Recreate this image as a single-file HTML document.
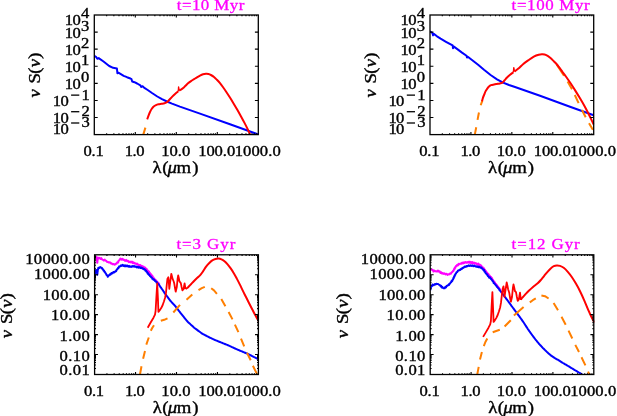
<!DOCTYPE html>
<html><head><meta charset="utf-8"><title>SED evolution</title>
<style>
html,body{margin:0;padding:0;background:#fff;}
body{width:617px;height:416px;overflow:hidden;font-family:"Liberation Serif",serif;}
svg{display:block;will-change:transform;opacity:0.999;}
</style></head><body>
<svg width="617" height="416" viewBox="0 0 617 416" font-family='"Liberation Serif", serif'>
<rect width="617" height="416" fill="#fff"/>
<defs>
<clipPath id="c1"><rect x="94.3" y="15" width="164.6" height="120"/></clipPath>
<clipPath id="c2"><rect x="430" y="15" width="164.3" height="120"/></clipPath>
<clipPath id="c3"><rect x="94.6" y="254.8" width="164.4" height="120.1"/></clipPath>
<clipPath id="c4"><rect x="430.2" y="254.8" width="164.2" height="120.1"/></clipPath>
</defs>
<path d="M94.3 55.8 L96 56.8 L97.3 58.8 L98.7 58.1 L103.5 61.5 L109.2 66 L113.1 67.8 L116.9 68.5 L117.4 73.2 L118.8 72.8 L123.7 75.8 L127 77.2 L130.4 78.5 L131.5 79.2 L132.2 81.5 L134.5 82.2 L137.1 83.5 L140.4 85.4 L141.3 87 L142.6 86.2 L144 87.6 L147.7 90 L152 93 L157.3 96.5 L162 99.2 L166.9 101.5 L172 103.6 L179.9 106.6 L200 113.6 L230 124.3 L258.3 134.4" fill="none" stroke="#0000ff" stroke-width="2" stroke-linejoin="round" stroke-linecap="butt" clip-path="url(#c1)"/>
<path d="M143.3 134.6 L145.4 127.6" fill="none" stroke="#ff7f00" stroke-width="2" stroke-linejoin="round" stroke-linecap="butt"/>
<path d="M147.2 119.3 C147.42 118.68 148.03 116.82 148.5 115.6 C148.97 114.38 149.45 113.13 150 112 C150.55 110.87 151.18 109.7 151.8 108.8 C152.42 107.9 153 107.22 153.7 106.6 C154.4 105.98 155.2 105.48 156 105.1 C156.8 104.72 157.58 104.52 158.5 104.3 C159.42 104.08 160.5 103.98 161.5 103.8 C162.5 103.62 163.67 103.45 164.5 103.2 C165.33 102.95 165.92 102.63 166.5 102.3 C167.08 101.97 167.42 101.75 168 101.2 C168.58 100.65 169.25 99.8 170 99 C170.75 98.2 171.7 97.2 172.5 96.4 C173.3 95.6 174.05 94.88 174.8 94.2 C175.55 93.52 176.42 92.78 177 92.3 C177.58 91.82 178.08 91.47 178.3 91.3" fill="none" stroke="#ff0000" stroke-width="2" stroke-linejoin="round" stroke-linecap="butt"/>
<path d="M178.3 91.3 L178.6 87 L179.2 90.6" fill="none" stroke="#ff0000" stroke-width="1.4" stroke-linejoin="round" stroke-linecap="butt"/>
<path d="M179.2 90.6 C179.5 90.43 180.33 90.02 181 89.6 C181.67 89.18 182.45 88.73 183.2 88.1 C183.95 87.47 184.7 86.6 185.5 85.8 C186.3 85 187.08 84.08 188 83.3 C188.92 82.52 190 81.78 191 81.1 C192 80.42 193 79.83 194 79.2 C195 78.57 196 77.9 197 77.3 C198 76.7 199 76.1 200 75.6 C201 75.1 202 74.6 203 74.3 C204 74 205.08 73.85 206 73.8 C206.92 73.75 207.68 73.8 208.5 74 C209.32 74.2 209.98 74.5 210.9 75 C211.82 75.5 213 76.2 214 77 C215 77.8 215.9 78.77 216.9 79.8 C217.9 80.83 219 82 220 83.2 C221 84.4 221.82 85.5 222.9 87 C223.98 88.5 225.3 90.4 226.5 92.2 C227.7 94 228.9 95.88 230.1 97.8 C231.3 99.72 232.5 101.7 233.7 103.7 C234.9 105.7 236.1 107.72 237.3 109.8 C238.5 111.88 239.7 114.02 240.9 116.2 C242.1 118.38 243.43 120.87 244.5 122.9 C245.57 124.93 246.35 126.45 247.3 128.4 C248.25 130.35 249.72 133.57 250.2 134.6" fill="none" stroke="#ff0000" stroke-width="2" stroke-linejoin="round" stroke-linecap="butt"/>
<path d="M430 31.2 L432.6 33.2 L433 35.4 L433.8 33.9 L437 36.3 L440.6 38.7 L446 41.8 L452.6 45.4 L453 48.2 L453.9 46.6 L458 49.6 L462 52.6 L466.5 55.8 L467 57.6 L467.8 56.8 L472 60 L478.1 64.8 L484 69.8 L490.6 75 L497 79.3 L503.1 82.6 L509 85 L515 87 L540 95.8 L570 106.7 L593.7 115.2" fill="none" stroke="#0000ff" stroke-width="2" stroke-linejoin="round" stroke-linecap="butt" clip-path="url(#c2)"/>
<path d="M474.8 134.6 C475.03 133.42 475.73 130 476.2 127.5 C476.67 125 477.12 122.22 477.6 119.6 C478.08 116.98 478.57 114.23 479.1 111.8 C479.63 109.37 480.25 106.87 480.8 105 C481.35 103.13 482.13 101.33 482.4 100.6" fill="none" stroke="#ff7f00" stroke-width="2" stroke-linejoin="round" stroke-linecap="butt" stroke-dasharray="7.5 7.5"/>
<path d="M556.8 64.6 L564 75.8 M567.6 81.6 L572 89.3 M574.8 95 L578.6 103.2 M582 110 L585.7 117.3 M589 123.3 L592.9 129.8" fill="none" stroke="#ff7f00" stroke-width="2" stroke-linecap="butt" stroke-linejoin="round" clip-path="url(#c2)"/>
<path d="M482 101.3 C482.17 100.68 482.63 98.72 483 97.6 C483.37 96.48 483.78 95.63 484.2 94.6 C484.62 93.57 485.02 92.37 485.5 91.4 C485.98 90.43 486.52 89.6 487.1 88.8 C487.68 88 488.35 87.2 489 86.6 C489.65 86 490.17 85.55 491 85.2 C491.83 84.85 493.05 84.7 494 84.5 C494.95 84.3 495.73 84.17 496.7 84 C497.67 83.83 498.83 83.73 499.8 83.5 C500.77 83.27 501.8 83.02 502.5 82.6 C503.2 82.18 503.52 81.55 504 81 C504.48 80.45 504.85 79.92 505.4 79.3 C505.95 78.68 506.67 77.93 507.3 77.3 C507.93 76.67 508.55 76.07 509.2 75.5 C509.85 74.93 510.5 74.43 511.2 73.9 C511.9 73.37 513.03 72.57 513.4 72.3" fill="none" stroke="#ff0000" stroke-width="2" stroke-linejoin="round" stroke-linecap="butt"/>
<path d="M513.4 72.3 L513.8 67.6 L514.5 71.5" fill="none" stroke="#ff0000" stroke-width="1.4" stroke-linejoin="round" stroke-linecap="butt"/>
<path d="M514.5 71.5 C514.68 71.37 514.78 71.33 515.6 70.7 C516.42 70.07 518.12 68.82 519.4 67.7 C520.68 66.58 521.85 65.22 523.3 64 C524.75 62.78 526.35 61.63 528.1 60.4 C529.85 59.17 532.03 57.55 533.8 56.6 C535.57 55.65 537.25 55.08 538.7 54.7 C540.15 54.32 541.23 54.23 542.5 54.3 C543.77 54.37 545.02 54.53 546.3 55.1 C547.58 55.67 548.95 56.68 550.2 57.7 C551.45 58.72 552.75 60.15 553.8 61.2 C554.85 62.25 555.63 63 556.5 64 C557.37 65 558.02 65.9 559 67.2 C559.98 68.5 561.25 70.25 562.4 71.8 C563.55 73.35 564.53 74.58 565.9 76.5 C567.27 78.42 569.03 80.95 570.6 83.3 C572.17 85.65 573.73 88.1 575.3 90.6 C576.87 93.1 578.45 95.7 580 98.3 C581.55 100.9 583.2 103.67 584.6 106.2 C586 108.73 587.13 110.97 588.4 113.5 C589.67 116.03 591.32 119.57 592.2 121.4 C593.08 123.23 593.45 123.98 593.7 124.5" fill="none" stroke="#ff0000" stroke-width="2" stroke-linejoin="round" stroke-linecap="butt" clip-path="url(#c2)"/>
<path d="M94.6 256.2 L95.8 256.38 L96.25 257.91 L96.7 257.43 L96.8 259.12 L96.9 259.25 L97 260.89 L97.1 260.83 L97.2 262.75 L97.3 262.81 L97.38 262.29 L97.47 260.66 L97.55 260.78 L97.63 258.97 L97.72 258.81 L97.8 257.41 L98.7 258.54 L99.6 257.83 L100.5 258.87 L101.33 258.16 L102.17 259.56 L103 259.85 L103.83 260.58 L104.67 259.6 L105.5 260.75 L106.27 260.71 L107.03 261.91 L107.8 261.94 L108.9 262.61 L110 262.21 L110.83 263.48 L111.67 263.26 L112.5 264.27 L113.6 263.94 L114.7 264.8 L115.6 263.7 L116.5 263.75 L117.3 262.24 L118.1 262.55 L118.65 260.65 L119.2 260.44 L120.4 258.5 L121.45 259.72 L122.5 258.79 L123.25 259.93 L124 259.66 L125.05 260.89 L126.1 259.84 L127.07 261.28 L128.03 260.7 L129 262.22 L130 261.56 L131 262.5 L132 261.57 L132.8 263.09 L133.6 262.33 L134.4 263.49 L135.2 263.14 L136.13 264.01 L137.07 263.58 L138 264.97 L138.75 264.66 L139.5 265.65 L140.25 264.97 L141 266.32 L141.85 265.85 L142.7 266.99 L143.55 266.58 L144.4 267.98 L145.1 267.57 L145.8 268.96 L146.5 268.79 L147.17 270.16 L147.83 270.64 L148.5 272.13 L149.04 271.53 L149.58 273.31 L150.12 273.1 L150.66 274.32 L151.2 274.28 L151.74 276.15 L152.28 275.67 L152.82 277.38 L153.36 277.22 L153.9 278.71 L154.52 278.83 L155.14 280.15 L155.76 280.11 L156.38 281.16 L157 281.49 L157.65 282.43 L158.3 282.86 L158.95 283.72 L159.6 284.37" fill="none" stroke="#ff00ff" stroke-width="2" stroke-linejoin="round" stroke-linecap="butt" clip-path="url(#c3)"/>
<path d="M94.6 276.5 L94.72 275.05 L94.85 275.32 L94.97 273.73 L95.1 273.16 L95.43 271.61 L95.77 271.74 L96.1 269.96 L96.9 271.67 L97 271.79 L97.1 273.41 L97.2 273.4 L97.3 274.8 L97.4 273.35 L97.5 273.07 L97.6 271.37 L97.7 271.52 L97.8 269.42 L98.05 269.48 L98.3 267.87 L99.25 267.95 L100.2 267.06 L101.5 267.93 L102.03 268.06 L102.57 269.27 L103.1 269.3 L103.57 270.8 L104.05 270.53 L104.53 271.94 L105 271.97 L105.5 273.2 L106 273.66 L106.5 274.99 L107.15 275.14 L107.8 276.8 L108.65 275.16 L109.5 275.21 L110.17 273.92 L110.83 274.44 L111.5 272.93 L112.5 273.46 L113.5 271.91 L114.5 272.4 L115.5 271.11 L116.17 271.19 L116.83 269.22 L117.5 269.2 L118.07 267.75 L118.63 267.93 L119.2 266.36 L120.1 266.52 L121 265.24 L121.85 265.91 L122.7 264.74 L123.47 265.85 L124.23 265.28 L125 266.34 L125.83 265.31 L126.67 266.27 L127.5 265.61 L128.3 266.74 L129.1 265.88 L129.9 266.88 L130.7 266.47 L131.52 266.9 L132.35 266.09 L133.18 266.67 L134 265.84 L135 266.92 L136 266.38 L137 267.47 L137.93 266.69 L138.87 267.79 L139.8 267.04 L140.7 268.07 L141.6 267.57 L142.5 268.7 L143.25 268.48 L144 269.42 L144.75 269.28 L145.5 270.67 L146.05 270.48 L146.6 271.86 L147.15 271.99 L147.7 273.77 L148.27 273.42 L148.85 274.86 L149.43 274.85 L150 276.15 L150.58 276.13 L151.17 277.38 L151.75 277.47 L152.33 278.81 L152.92 278.66 L153.5 279.77 L154.25 279.52 L155 280.94 L155.75 281.13 L156.5 282.54 L157.04 282.28 L157.58 283.63 L158.12 283.68 L158.66 284.63 L159.2 284.85 L159.67 285.96 L160.13 286.24 L160.6 287.32 L161.07 287.6 L161.53 288.54 L162 288.95 L162.5 289.84 L163 290.41 L163.5 291.34 L164 292.04 L164.5 292.86 L165 293.6 L165.5 294.27 L166 294.93 L166.5 295.6 L167 296.27 L167.5 296.93 L168 297.6 L168.56 298.34 L169.12 299.08 L169.68 299.82 L170.24 300.56 L170.8 301.3 L171.4 301.94 L172 302.59 L172.6 303.23 L173.2 303.87 L173.8 304.51 L174.4 305.16 L175 305.8 L175.53 306.48 L176.05 307.16 L176.58 307.85 L177.11 308.53 L177.64 309.21 L178.16 309.89 L178.69 310.57 L179.22 311.25 L179.75 311.94 L180.27 312.62 L180.8 313.3 L181.32 313.94 L181.83 314.58 L182.35 315.22 L182.86 315.85 L183.38 316.49 L183.89 317.13 L184.41 317.77 L184.92 318.41 L185.44 319.05 L185.95 319.68 L186.47 320.32 L186.98 320.96 L187.5 321.6 L188.11 322.15 L188.72 322.71 L189.33 323.26 L189.94 323.82 L190.55 324.37 L191.15 324.93 L191.76 325.48 L192.37 326.04 L192.98 326.59 L193.59 327.15 L194.2 327.7 L194.84 328.18 L195.48 328.67 L196.12 329.15 L196.77 329.63 L197.41 330.12 L198.05 330.6 L198.69 331.08 L199.33 331.57 L199.97 332.05 L200.62 332.53 L201.26 333.02 L201.9 333.5 L202.67 333.9 L203.44 334.3 L204.21 334.7 L204.98 335.1 L205.75 335.5 L206.52 335.9 L207.29 336.3 L208.06 336.7 L208.83 337.1 L209.6 337.5 L210.37 337.86 L211.14 338.21 L211.91 338.57 L212.69 338.93 L213.46 339.29 L214.23 339.64 L215 340 L215.84 340.34 L216.68 340.68 L217.52 341.02 L218.36 341.36 L219.2 341.7 L220 342.02 L220.8 342.35 L221.6 342.68 L222.4 343 L223.2 343.32 L224 343.65 L224.8 343.98 L225.6 344.3 L226.4 344.62 L227.2 344.95 L228 345.28 L228.8 345.6 L229.58 345.96 L230.36 346.32 L231.14 346.68 L231.92 347.04 L232.7 347.4 L233.48 347.76 L234.26 348.12 L235.04 348.48 L235.82 348.84 L236.6 349.2 L237.36 349.52 L238.12 349.84 L238.88 350.16 L239.64 350.48 L240.4 350.8 L241.16 351.12 L241.92 351.44 L242.68 351.76 L243.44 352.08 L244.2 352.4 L244.96 352.72 L245.72 353.04 L246.48 353.36 L247.24 353.68 L248 354 L248.76 354.38 L249.51 354.76 L250.27 355.14 L251.03 355.51 L251.79 355.89 L252.54 356.27 L253.3 356.65 L254.06 357.03 L254.81 357.41 L255.57 357.79 L256.33 358.16 L257.09 358.54 L257.84 358.92 L258.6 359.3" fill="none" stroke="#0000ff" stroke-width="2" stroke-linejoin="round" stroke-linecap="butt" clip-path="url(#c3)"/>
<path d="M140 374.3 L141.5 366.3 M143.1 358.7 L145 351 M146.3 344.6 L148.8 337.5 M150.8 330.8 L152.2 328 L154 325.2 M160.8 320.8 L164.2 319.8 L167.5 318.3 M173.3 312.5 L180 304.8 M186.5 299.8 L192.3 294.6 M198.5 290.2 L201.8 288.2 L204.8 286.9 M211.2 288.3 L214 290.4 L216.9 293.8 M221.3 299 L225.4 306.2 M228.6 312 L232.5 319.4 M234.9 324.6 L238.4 332.2 M241 338.7 L244.2 346.3 M247 352.8 L250.7 360.3 M252.9 365.8 L257.2 374.4" fill="none" stroke="#ff7f00" stroke-width="2" stroke-linecap="butt" stroke-linejoin="round" clip-path="url(#c3)"/>
<path d="M147.7 327.7 L150.5 322.8 L153.5 317.7 L155 314.6 L155.6 311 L156.3 298.5 L157.2 283.5 L157.9 298 L158.4 311.8 L159.6 310.4 L161.2 308.1 L162.7 305 L164 301.3 L165.2 297.2 L166 292.7 L166.8 284.5 L167.4 279 L168.3 277.3 L168.8 282 L169.3 288.8 L170.2 282 L171.3 273.8 L172 276.5 L172.7 279.2 L173.5 281 L174.2 283.1 L175 288 L175.7 291.7 L176.8 287 L177.6 279 L178.2 275.4 L178.8 278 L179.4 281.2 L180.8 283.1 L181.6 287 L182.4 290.4 L183.6 289 L184.2 285.5 L184.6 283.5 L185 286 L185.5 289" fill="none" stroke="#ff0000" stroke-width="1.8" stroke-linejoin="round" stroke-linecap="butt"/>
<path d="M185.5 289 C185.72 288.87 186.37 288.5 186.8 288.2 C187.23 287.9 187.4 287.87 188.1 287.2 C188.8 286.53 190.05 285.2 191 284.2 C191.95 283.2 192.83 282.2 193.8 281.2 C194.77 280.2 195.77 279.17 196.8 278.2 C197.83 277.23 198.97 276.53 200 275.4 C201.03 274.27 201.98 272.87 203 271.4 C204.02 269.93 205.05 268 206.1 266.6 C207.15 265.2 208.27 264.03 209.3 263 C210.33 261.97 211.27 261.07 212.3 260.4 C213.33 259.73 214.48 259.3 215.5 259 C216.52 258.7 217.4 258.55 218.4 258.6 C219.4 258.65 220.48 258.87 221.5 259.3 C222.52 259.73 223.48 260.35 224.5 261.2 C225.52 262.05 226.57 263.2 227.6 264.4 C228.63 265.6 229.67 266.93 230.7 268.4 C231.73 269.87 232.78 271.5 233.8 273.2 C234.82 274.9 235.78 276.7 236.8 278.6 C237.82 280.5 238.88 282.55 239.9 284.6 C240.92 286.65 241.88 288.83 242.9 290.9 C243.92 292.97 244.97 294.95 246 297 C247.03 299.05 248.07 301.17 249.1 303.2 C250.13 305.23 251.18 307.23 252.2 309.2 C253.22 311.17 254.12 313 255.2 315 C256.28 317 258.12 320.17 258.7 321.2" fill="none" stroke="#ff0000" stroke-width="2" stroke-linejoin="round" stroke-linecap="butt" clip-path="url(#c3)"/>
<path d="M430.2 270.1 L431.1 269.48 L432 269.84 L432.75 269.85 L433.5 271.48 L434.33 270.61 L435.17 271.38 L436 271.15 L437 271.66 L438 270.51 L438.83 271.67 L439.67 271.3 L440.5 273 L441.27 272.29 L442.03 273.61 L442.8 273 L443.7 273.86 L444.6 273.27 L445.5 274.53 L446.5 273.73 L447.5 274.99 L448.5 274.18 L449.33 274.41 L450.17 273.2 L451 273.77 L451.7 272.32 L452.4 272.12 L453.1 270.68 L453.53 270.88 L453.95 269.11 L454.38 269.46 L454.8 267.46 L455.37 267.82 L455.93 265.97 L456.5 266.09 L457.25 264.74 L458 265.41 L458.75 263.74 L459.5 264.19 L460.4 263.55 L461.3 263.79 L462.2 262.62 L463.02 263.46 L463.85 262.36 L464.68 262.93 L465.5 261.98 L466.4 262.68 L467.3 261.91 L468.2 262.64 L469.1 261.63 L469.95 262.87 L470.8 261.83 L471.65 263.14 L472.5 261.98 L473.35 263.57 L474.2 262.63 L475.05 263.66 L475.9 263.08 L477.05 264.63 L478.2 263.55 L478.97 265.09 L479.73 264.53 L480.5 265.76 L481.27 265.59 L482.03 267.36 L482.8 267.3 L483.35 268.38 L483.9 268.18 L484.45 270.09 L485 269.81 L485.6 271.46 L486.2 271.36 L486.8 272.82 L487.37 273 L487.93 274.57 L488.5 274.07 L489.06 275.48 L489.62 275.46 L490.18 276.73 L490.74 276.64 L491.3 278.13 L491.79 277.85 L492.27 279.84 L492.76 279.47 L493.24 281.13 L493.73 280.98 L494.21 282.05 L494.7 282.28 L495.27 283.39 L495.83 283.87 L496.4 284.87 L496.97 285.22 L497.53 286.17 L498.1 286.76 L498.7 287.7 L499.3 288.37 L499.9 289.21 L500.5 290" fill="none" stroke="#ff00ff" stroke-width="2" stroke-linejoin="round" stroke-linecap="butt" clip-path="url(#c4)"/>
<path d="M430.2 290.4 L430.4 289.32 L430.6 288.87 L430.8 287.54 L431 287.19 L431.53 286.18 L432.07 285.98 L432.6 284.44 L433.7 285.3 L434.8 284.11 L435.57 284.56 L436.33 283.69 L437.1 284.05 L438.05 284 L439 284.77 L439.8 284.98 L440.6 286.37 L441.23 285.88 L441.87 287.51 L442.5 287.1 L443.25 288.21 L444 288.13 L444.67 288.29 L445.33 286.86 L446 287.33 L446.83 285.66 L447.67 285.76 L448.5 284.59 L449.07 284.84 L449.65 283.44 L450.23 283.41 L450.8 282.25 L451.26 282.08 L451.72 280.67 L452.18 281.1 L452.64 279.5 L453.1 279.46 L453.44 277.88 L453.78 278.07 L454.12 276.38 L454.46 276.69 L454.8 275.04 L455.23 274.97 L455.65 273.49 L456.07 273.48 L456.5 272.2 L457.27 272 L458.03 270.56 L458.8 270.54 L459.57 269.79 L460.33 269.89 L461.1 268.75 L461.9 268.91 L462.7 267.72 L463.5 267.88 L464.6 266.55 L465.7 266.91 L466.63 266.08 L467.57 266.32 L468.5 265.38 L469.47 265.95 L470.43 265.31 L471.4 265.98 L472.37 265.39 L473.33 266.22 L474.3 265.45 L475.23 266.4 L476.17 266.32 L477.1 266.93 L477.9 266.31 L478.7 267.32 L479.5 266.77 L480.55 267.68 L481.6 267.59 L482.2 268.77 L482.8 268.91 L483.4 270.13 L484 269.75 L484.55 271.68 L485.1 271.43 L485.65 273.28 L486.2 273.37 L486.77 274.53 L487.35 274.47 L487.93 276.32 L488.5 276.28 L489.27 277.77 L490.03 277.38 L490.8 278.91 L491.29 278.82 L491.77 279.98 L492.26 280.12 L492.74 281.33 L493.23 281.53 L493.71 283.1 L494.2 282.92 L494.77 284.02 L495.33 284.46 L495.9 285.5 L496.47 285.5 L497.03 286.99 L497.6 287.16 L498.17 288.28 L498.73 288.4 L499.3 289.83 L499.87 290.19 L500.43 291.15 L501 291.73 L501.5 292.55 L502 292.95 L502.5 293.83 L503 294.39 L503.5 295.15 L504 295.71 L504.5 296.44 L505 297.06 L505.5 297.71 L506 298.37 L506.5 299.03 L507 299.69 L507.5 300.34 L508 301 L508.47 301.66 L508.94 302.31 L509.41 302.97 L509.89 303.63 L510.36 304.29 L510.83 304.94 L511.3 305.6 L511.83 306.31 L512.36 307.03 L512.89 307.74 L513.41 308.46 L513.94 309.17 L514.47 309.89 L515 310.6 L515.5 311.27 L516 311.94 L516.5 312.61 L517 313.28 L517.5 313.95 L518 314.62 L518.5 315.29 L519 315.96 L519.5 316.63 L520 317.3 L520.5 318.01 L521 318.73 L521.5 319.44 L522 320.15 L522.5 320.86 L523 321.57 L523.5 322.29 L524 323 L524.46 323.73 L524.92 324.45 L525.39 325.18 L525.85 325.9 L526.31 326.62 L526.78 327.35 L527.24 328.07 L527.7 328.8 L528.18 329.48 L528.65 330.15 L529.12 330.82 L529.6 331.5 L530.08 332.18 L530.55 332.85 L531.02 333.52 L531.5 334.2 L531.99 334.85 L532.48 335.5 L532.96 336.15 L533.45 336.8 L533.94 337.45 L534.42 338.1 L534.91 338.75 L535.4 339.4 L535.94 340.06 L536.49 340.71 L537.03 341.37 L537.57 342.03 L538.11 342.69 L538.66 343.34 L539.2 344 L539.76 344.6 L540.31 345.2 L540.87 345.8 L541.43 346.4 L541.99 347 L542.54 347.6 L543.1 348.2 L543.75 348.83 L544.4 349.47 L545.05 350.1 L545.7 350.73 L546.35 351.37 L547 352 L547.63 352.57 L548.27 353.13 L548.9 353.7 L549.53 354.27 L550.17 354.83 L550.8 355.4 L551.54 355.9 L552.28 356.4 L553.02 356.9 L553.76 357.4 L554.5 357.9 L555.3 358.36 L556.1 358.82 L556.9 359.28 L557.7 359.74 L558.5 360.2 L559.25 360.67 L560 361.13 L560.75 361.6 L561.5 362.07 L562.25 362.53 L563 363 L563.73 363.43 L564.46 363.86 L565.19 364.29 L565.91 364.71 L566.64 365.14 L567.37 365.57 L568.1 366 L568.84 366.45 L569.58 366.9 L570.31 367.35 L571.05 367.8 L571.79 368.25 L572.52 368.7 L573.26 369.15 L574 369.6 L574.75 370.05 L575.5 370.5 L576.25 370.95 L577 371.4 L577.75 371.85 L578.5 372.3 L579.25 372.75 L580 373.2 L580.75 373.7 L581.5 374.2 L582.25 374.7 L583 375.2" fill="none" stroke="#0000ff" stroke-width="2" stroke-linejoin="round" stroke-linecap="butt" clip-path="url(#c4)"/>
<path d="M477.3 374.3 L478.7 366.9 M480 359.6 L481.9 351.9 M483.8 346.2 L485.4 342 L487.3 338.5 M492.7 332.3 L496.2 331 L499.8 329.8 M504.6 326.5 L510.8 320.2 M513.9 315.4 L523.6 307 M529.8 302.4 L532.8 300.2 L535.8 298.4 M541.4 295.5 L545 296.2 L548.6 298.5 M553.6 302.9 L558 310.2 M561.5 316.8 L565.7 324.8 M568.5 330.6 L572.3 338.5 M575.3 344.9 L579 352 M581.5 357.3 L585.4 365.4 M588 371.6 L589.7 375" fill="none" stroke="#ff7f00" stroke-width="2" stroke-linecap="butt" stroke-linejoin="round" clip-path="url(#c4)"/>
<path d="M483.1 336.9 L485.8 332.4 L488.5 327.7 L490.2 324.4 L490.9 321 L491.6 307 L492.4 292.1 L493 307 L493.6 321.9 L494.8 320.4 L496.2 318.1 L497.7 315 L499 311.3 L500.2 307.2 L501 302.7 L501.9 294.5 L502.6 289 L503.5 286.3 L504 291 L504.5 296.9 L505.5 290 L506.7 282.5 L507.4 285.5 L508.1 289.2 L508.7 291 L509.3 293.1 L510.1 298 L510.9 301.7 L512 297 L512.9 288 L513.5 284.4 L514.2 287.5 L514.9 291 L516 292.1 L516.9 297 L517.7 300.8 L518.9 299.4 L519.5 295.5 L520 292.7 L520.4 296 L520.9 299.8" fill="none" stroke="#ff0000" stroke-width="1.8" stroke-linejoin="round" stroke-linecap="butt"/>
<path d="M520.9 299.8 C521.08 299.5 521.63 298.48 522 298 C522.37 297.52 522.43 297.63 523.1 296.9 C523.77 296.17 525.05 294.62 526 293.6 C526.95 292.58 527.63 291.9 528.8 290.8 C529.97 289.7 531.52 288.25 533 287 C534.48 285.75 536.37 284.5 537.7 283.3 C539.03 282.1 539.92 281.05 541 279.8 C542.08 278.55 543.12 277.13 544.2 275.8 C545.28 274.47 546.42 273.03 547.5 271.8 C548.58 270.57 549.65 269.33 550.7 268.4 C551.75 267.47 552.78 266.68 553.8 266.2 C554.82 265.72 555.77 265.55 556.8 265.5 C557.83 265.45 558.85 265.52 560 265.9 C561.15 266.28 562.4 266.82 563.7 267.8 C565 268.78 566.45 270.27 567.8 271.8 C569.15 273.33 570.45 275.03 571.8 277 C573.15 278.97 574.55 281.27 575.9 283.6 C577.25 285.93 578.55 288.3 579.9 291 C581.25 293.7 582.65 296.75 584 299.8 C585.35 302.85 586.83 306.6 588 309.3 C589.17 312 589.92 313.78 591 316 C592.08 318.22 593.92 321.5 594.5 322.6" fill="none" stroke="#ff0000" stroke-width="2" stroke-linejoin="round" stroke-linecap="butt" clip-path="url(#c4)"/>
<rect x="94.3" y="15" width="164" height="119.6" fill="none" stroke="#000" stroke-width="1.3"/>
<path d="M135.3 134.6 v-2.6 M135.3 15 v2.6 M176.3 134.6 v-2.6 M176.3 15 v2.6 M217.3 134.6 v-2.6 M217.3 15 v2.6 M106.64 134.6 v-1.3 M106.64 15 v1.3 M113.86 134.6 v-1.3 M113.86 15 v1.3 M118.98 134.6 v-1.3 M118.98 15 v1.3 M122.96 134.6 v-1.3 M122.96 15 v1.3 M126.2 134.6 v-1.3 M126.2 15 v1.3 M128.95 134.6 v-1.3 M128.95 15 v1.3 M131.33 134.6 v-1.3 M131.33 15 v1.3 M133.42 134.6 v-1.3 M133.42 15 v1.3 M147.64 134.6 v-1.3 M147.64 15 v1.3 M154.86 134.6 v-1.3 M154.86 15 v1.3 M159.98 134.6 v-1.3 M159.98 15 v1.3 M163.96 134.6 v-1.3 M163.96 15 v1.3 M167.2 134.6 v-1.3 M167.2 15 v1.3 M169.95 134.6 v-1.3 M169.95 15 v1.3 M172.33 134.6 v-1.3 M172.33 15 v1.3 M174.42 134.6 v-1.3 M174.42 15 v1.3 M188.64 134.6 v-1.3 M188.64 15 v1.3 M195.86 134.6 v-1.3 M195.86 15 v1.3 M200.98 134.6 v-1.3 M200.98 15 v1.3 M204.96 134.6 v-1.3 M204.96 15 v1.3 M208.2 134.6 v-1.3 M208.2 15 v1.3 M210.95 134.6 v-1.3 M210.95 15 v1.3 M213.33 134.6 v-1.3 M213.33 15 v1.3 M215.42 134.6 v-1.3 M215.42 15 v1.3 M229.64 134.6 v-1.3 M229.64 15 v1.3 M236.86 134.6 v-1.3 M236.86 15 v1.3 M241.98 134.6 v-1.3 M241.98 15 v1.3 M245.96 134.6 v-1.3 M245.96 15 v1.3 M249.2 134.6 v-1.3 M249.2 15 v1.3 M251.95 134.6 v-1.3 M251.95 15 v1.3 M254.33 134.6 v-1.3 M254.33 15 v1.3 M256.42 134.6 v-1.3 M256.42 15 v1.3 M94.3 32.09 h3.4 M258.3 32.09 h-3.4 M94.3 49.17 h3.4 M258.3 49.17 h-3.4 M94.3 66.26 h3.4 M258.3 66.26 h-3.4 M94.3 83.34 h3.4 M258.3 83.34 h-3.4 M94.3 100.43 h3.4 M258.3 100.43 h-3.4 M94.3 117.51 h3.4 M258.3 117.51 h-3.4" fill="none" stroke="#000" stroke-width="1.1"/>
<rect x="430" y="15" width="163.7" height="119.6" fill="none" stroke="#000" stroke-width="1.3"/>
<path d="M470.93 134.6 v-2.6 M470.93 15 v2.6 M511.85 134.6 v-2.6 M511.85 15 v2.6 M552.78 134.6 v-2.6 M552.78 15 v2.6 M442.32 134.6 v-1.3 M442.32 15 v1.3 M449.53 134.6 v-1.3 M449.53 15 v1.3 M454.64 134.6 v-1.3 M454.64 15 v1.3 M458.61 134.6 v-1.3 M458.61 15 v1.3 M461.85 134.6 v-1.3 M461.85 15 v1.3 M464.59 134.6 v-1.3 M464.59 15 v1.3 M466.96 134.6 v-1.3 M466.96 15 v1.3 M469.05 134.6 v-1.3 M469.05 15 v1.3 M483.24 134.6 v-1.3 M483.24 15 v1.3 M490.45 134.6 v-1.3 M490.45 15 v1.3 M495.56 134.6 v-1.3 M495.56 15 v1.3 M499.53 134.6 v-1.3 M499.53 15 v1.3 M502.77 134.6 v-1.3 M502.77 15 v1.3 M505.51 134.6 v-1.3 M505.51 15 v1.3 M507.88 134.6 v-1.3 M507.88 15 v1.3 M509.98 134.6 v-1.3 M509.98 15 v1.3 M524.17 134.6 v-1.3 M524.17 15 v1.3 M531.38 134.6 v-1.3 M531.38 15 v1.3 M536.49 134.6 v-1.3 M536.49 15 v1.3 M540.46 134.6 v-1.3 M540.46 15 v1.3 M543.7 134.6 v-1.3 M543.7 15 v1.3 M546.44 134.6 v-1.3 M546.44 15 v1.3 M548.81 134.6 v-1.3 M548.81 15 v1.3 M550.9 134.6 v-1.3 M550.9 15 v1.3 M565.09 134.6 v-1.3 M565.09 15 v1.3 M572.3 134.6 v-1.3 M572.3 15 v1.3 M577.41 134.6 v-1.3 M577.41 15 v1.3 M581.38 134.6 v-1.3 M581.38 15 v1.3 M584.62 134.6 v-1.3 M584.62 15 v1.3 M587.36 134.6 v-1.3 M587.36 15 v1.3 M589.73 134.6 v-1.3 M589.73 15 v1.3 M591.83 134.6 v-1.3 M591.83 15 v1.3 M430 32.09 h3.4 M593.7 32.09 h-3.4 M430 49.17 h3.4 M593.7 49.17 h-3.4 M430 66.26 h3.4 M593.7 66.26 h-3.4 M430 83.34 h3.4 M593.7 83.34 h-3.4 M430 100.43 h3.4 M593.7 100.43 h-3.4 M430 117.51 h3.4 M593.7 117.51 h-3.4" fill="none" stroke="#000" stroke-width="1.1"/>
<rect x="94.6" y="254.8" width="163.8" height="119.7" fill="none" stroke="#000" stroke-width="1.3"/>
<path d="M135.55 374.5 v-2.6 M135.55 254.8 v2.6 M176.5 374.5 v-2.6 M176.5 254.8 v2.6 M217.45 374.5 v-2.6 M217.45 254.8 v2.6 M106.93 374.5 v-1.3 M106.93 254.8 v1.3 M114.14 374.5 v-1.3 M114.14 254.8 v1.3 M119.25 374.5 v-1.3 M119.25 254.8 v1.3 M123.22 374.5 v-1.3 M123.22 254.8 v1.3 M126.47 374.5 v-1.3 M126.47 254.8 v1.3 M129.21 374.5 v-1.3 M129.21 254.8 v1.3 M131.58 374.5 v-1.3 M131.58 254.8 v1.3 M133.68 374.5 v-1.3 M133.68 254.8 v1.3 M147.88 374.5 v-1.3 M147.88 254.8 v1.3 M155.09 374.5 v-1.3 M155.09 254.8 v1.3 M160.2 374.5 v-1.3 M160.2 254.8 v1.3 M164.17 374.5 v-1.3 M164.17 254.8 v1.3 M167.42 374.5 v-1.3 M167.42 254.8 v1.3 M170.16 374.5 v-1.3 M170.16 254.8 v1.3 M172.53 374.5 v-1.3 M172.53 254.8 v1.3 M174.63 374.5 v-1.3 M174.63 254.8 v1.3 M188.83 374.5 v-1.3 M188.83 254.8 v1.3 M196.04 374.5 v-1.3 M196.04 254.8 v1.3 M201.15 374.5 v-1.3 M201.15 254.8 v1.3 M205.12 374.5 v-1.3 M205.12 254.8 v1.3 M208.37 374.5 v-1.3 M208.37 254.8 v1.3 M211.11 374.5 v-1.3 M211.11 254.8 v1.3 M213.48 374.5 v-1.3 M213.48 254.8 v1.3 M215.58 374.5 v-1.3 M215.58 254.8 v1.3 M229.78 374.5 v-1.3 M229.78 254.8 v1.3 M236.99 374.5 v-1.3 M236.99 254.8 v1.3 M242.1 374.5 v-1.3 M242.1 254.8 v1.3 M246.07 374.5 v-1.3 M246.07 254.8 v1.3 M249.32 374.5 v-1.3 M249.32 254.8 v1.3 M252.06 374.5 v-1.3 M252.06 254.8 v1.3 M254.43 374.5 v-1.3 M254.43 254.8 v1.3 M256.53 374.5 v-1.3 M256.53 254.8 v1.3 M94.6 274.75 h3.4 M258.4 274.75 h-3.4 M94.6 294.7 h3.4 M258.4 294.7 h-3.4 M94.6 314.65 h3.4 M258.4 314.65 h-3.4 M94.6 334.6 h3.4 M258.4 334.6 h-3.4 M94.6 354.55 h3.4 M258.4 354.55 h-3.4 M94.6 368.49 h1.4 M258.4 368.49 h-1.4 M94.6 364.98 h1.4 M258.4 364.98 h-1.4 M94.6 362.49 h1.4 M258.4 362.49 h-1.4 M94.6 360.56 h1.4 M258.4 360.56 h-1.4 M94.6 358.98 h1.4 M258.4 358.98 h-1.4 M94.6 357.64 h1.4 M258.4 357.64 h-1.4 M94.6 356.48 h1.4 M258.4 356.48 h-1.4 M94.6 355.46 h1.4 M258.4 355.46 h-1.4 M94.6 348.54 h1.4 M258.4 348.54 h-1.4 M94.6 345.03 h1.4 M258.4 345.03 h-1.4 M94.6 342.54 h1.4 M258.4 342.54 h-1.4 M94.6 340.61 h1.4 M258.4 340.61 h-1.4 M94.6 339.03 h1.4 M258.4 339.03 h-1.4 M94.6 337.69 h1.4 M258.4 337.69 h-1.4 M94.6 336.53 h1.4 M258.4 336.53 h-1.4 M94.6 335.51 h1.4 M258.4 335.51 h-1.4 M94.6 328.59 h1.4 M258.4 328.59 h-1.4 M94.6 325.08 h1.4 M258.4 325.08 h-1.4 M94.6 322.59 h1.4 M258.4 322.59 h-1.4 M94.6 320.66 h1.4 M258.4 320.66 h-1.4 M94.6 319.08 h1.4 M258.4 319.08 h-1.4 M94.6 317.74 h1.4 M258.4 317.74 h-1.4 M94.6 316.58 h1.4 M258.4 316.58 h-1.4 M94.6 315.56 h1.4 M258.4 315.56 h-1.4 M94.6 308.64 h1.4 M258.4 308.64 h-1.4 M94.6 305.13 h1.4 M258.4 305.13 h-1.4 M94.6 302.64 h1.4 M258.4 302.64 h-1.4 M94.6 300.71 h1.4 M258.4 300.71 h-1.4 M94.6 299.13 h1.4 M258.4 299.13 h-1.4 M94.6 297.79 h1.4 M258.4 297.79 h-1.4 M94.6 296.63 h1.4 M258.4 296.63 h-1.4 M94.6 295.61 h1.4 M258.4 295.61 h-1.4 M94.6 288.69 h1.4 M258.4 288.69 h-1.4 M94.6 285.18 h1.4 M258.4 285.18 h-1.4 M94.6 282.69 h1.4 M258.4 282.69 h-1.4 M94.6 280.76 h1.4 M258.4 280.76 h-1.4 M94.6 279.18 h1.4 M258.4 279.18 h-1.4 M94.6 277.84 h1.4 M258.4 277.84 h-1.4 M94.6 276.68 h1.4 M258.4 276.68 h-1.4 M94.6 275.66 h1.4 M258.4 275.66 h-1.4 M94.6 268.74 h1.4 M258.4 268.74 h-1.4 M94.6 265.23 h1.4 M258.4 265.23 h-1.4 M94.6 262.74 h1.4 M258.4 262.74 h-1.4 M94.6 260.81 h1.4 M258.4 260.81 h-1.4 M94.6 259.23 h1.4 M258.4 259.23 h-1.4 M94.6 257.89 h1.4 M258.4 257.89 h-1.4 M94.6 256.73 h1.4 M258.4 256.73 h-1.4 M94.6 255.71 h1.4 M258.4 255.71 h-1.4" fill="none" stroke="#000" stroke-width="1.1"/>
<rect x="430.2" y="254.8" width="163.6" height="119.7" fill="none" stroke="#000" stroke-width="1.3"/>
<path d="M471.1 374.5 v-2.6 M471.1 254.8 v2.6 M512 374.5 v-2.6 M512 254.8 v2.6 M552.9 374.5 v-2.6 M552.9 254.8 v2.6 M442.51 374.5 v-1.3 M442.51 254.8 v1.3 M449.71 374.5 v-1.3 M449.71 254.8 v1.3 M454.82 374.5 v-1.3 M454.82 254.8 v1.3 M458.79 374.5 v-1.3 M458.79 254.8 v1.3 M462.03 374.5 v-1.3 M462.03 254.8 v1.3 M464.76 374.5 v-1.3 M464.76 254.8 v1.3 M467.14 374.5 v-1.3 M467.14 254.8 v1.3 M469.23 374.5 v-1.3 M469.23 254.8 v1.3 M483.41 374.5 v-1.3 M483.41 254.8 v1.3 M490.61 374.5 v-1.3 M490.61 254.8 v1.3 M495.72 374.5 v-1.3 M495.72 254.8 v1.3 M499.69 374.5 v-1.3 M499.69 254.8 v1.3 M502.93 374.5 v-1.3 M502.93 254.8 v1.3 M505.66 374.5 v-1.3 M505.66 254.8 v1.3 M508.04 374.5 v-1.3 M508.04 254.8 v1.3 M510.13 374.5 v-1.3 M510.13 254.8 v1.3 M524.31 374.5 v-1.3 M524.31 254.8 v1.3 M531.51 374.5 v-1.3 M531.51 254.8 v1.3 M536.62 374.5 v-1.3 M536.62 254.8 v1.3 M540.59 374.5 v-1.3 M540.59 254.8 v1.3 M543.83 374.5 v-1.3 M543.83 254.8 v1.3 M546.56 374.5 v-1.3 M546.56 254.8 v1.3 M548.94 374.5 v-1.3 M548.94 254.8 v1.3 M551.03 374.5 v-1.3 M551.03 254.8 v1.3 M565.21 374.5 v-1.3 M565.21 254.8 v1.3 M572.41 374.5 v-1.3 M572.41 254.8 v1.3 M577.52 374.5 v-1.3 M577.52 254.8 v1.3 M581.49 374.5 v-1.3 M581.49 254.8 v1.3 M584.73 374.5 v-1.3 M584.73 254.8 v1.3 M587.46 374.5 v-1.3 M587.46 254.8 v1.3 M589.84 374.5 v-1.3 M589.84 254.8 v1.3 M591.93 374.5 v-1.3 M591.93 254.8 v1.3 M430.2 274.75 h3.4 M593.8 274.75 h-3.4 M430.2 294.7 h3.4 M593.8 294.7 h-3.4 M430.2 314.65 h3.4 M593.8 314.65 h-3.4 M430.2 334.6 h3.4 M593.8 334.6 h-3.4 M430.2 354.55 h3.4 M593.8 354.55 h-3.4 M430.2 368.49 h1.4 M593.8 368.49 h-1.4 M430.2 364.98 h1.4 M593.8 364.98 h-1.4 M430.2 362.49 h1.4 M593.8 362.49 h-1.4 M430.2 360.56 h1.4 M593.8 360.56 h-1.4 M430.2 358.98 h1.4 M593.8 358.98 h-1.4 M430.2 357.64 h1.4 M593.8 357.64 h-1.4 M430.2 356.48 h1.4 M593.8 356.48 h-1.4 M430.2 355.46 h1.4 M593.8 355.46 h-1.4 M430.2 348.54 h1.4 M593.8 348.54 h-1.4 M430.2 345.03 h1.4 M593.8 345.03 h-1.4 M430.2 342.54 h1.4 M593.8 342.54 h-1.4 M430.2 340.61 h1.4 M593.8 340.61 h-1.4 M430.2 339.03 h1.4 M593.8 339.03 h-1.4 M430.2 337.69 h1.4 M593.8 337.69 h-1.4 M430.2 336.53 h1.4 M593.8 336.53 h-1.4 M430.2 335.51 h1.4 M593.8 335.51 h-1.4 M430.2 328.59 h1.4 M593.8 328.59 h-1.4 M430.2 325.08 h1.4 M593.8 325.08 h-1.4 M430.2 322.59 h1.4 M593.8 322.59 h-1.4 M430.2 320.66 h1.4 M593.8 320.66 h-1.4 M430.2 319.08 h1.4 M593.8 319.08 h-1.4 M430.2 317.74 h1.4 M593.8 317.74 h-1.4 M430.2 316.58 h1.4 M593.8 316.58 h-1.4 M430.2 315.56 h1.4 M593.8 315.56 h-1.4 M430.2 308.64 h1.4 M593.8 308.64 h-1.4 M430.2 305.13 h1.4 M593.8 305.13 h-1.4 M430.2 302.64 h1.4 M593.8 302.64 h-1.4 M430.2 300.71 h1.4 M593.8 300.71 h-1.4 M430.2 299.13 h1.4 M593.8 299.13 h-1.4 M430.2 297.79 h1.4 M593.8 297.79 h-1.4 M430.2 296.63 h1.4 M593.8 296.63 h-1.4 M430.2 295.61 h1.4 M593.8 295.61 h-1.4 M430.2 288.69 h1.4 M593.8 288.69 h-1.4 M430.2 285.18 h1.4 M593.8 285.18 h-1.4 M430.2 282.69 h1.4 M593.8 282.69 h-1.4 M430.2 280.76 h1.4 M593.8 280.76 h-1.4 M430.2 279.18 h1.4 M593.8 279.18 h-1.4 M430.2 277.84 h1.4 M593.8 277.84 h-1.4 M430.2 276.68 h1.4 M593.8 276.68 h-1.4 M430.2 275.66 h1.4 M593.8 275.66 h-1.4 M430.2 268.74 h1.4 M593.8 268.74 h-1.4 M430.2 265.23 h1.4 M593.8 265.23 h-1.4 M430.2 262.74 h1.4 M593.8 262.74 h-1.4 M430.2 260.81 h1.4 M593.8 260.81 h-1.4 M430.2 259.23 h1.4 M593.8 259.23 h-1.4 M430.2 257.89 h1.4 M593.8 257.89 h-1.4 M430.2 256.73 h1.4 M593.8 256.73 h-1.4 M430.2 255.71 h1.4 M593.8 255.71 h-1.4" fill="none" stroke="#000" stroke-width="1.1"/>
<text font-size="14.3" text-anchor="start" fill="#000" textLength="17.41" lengthAdjust="spacing" transform="translate(83.6 155.8) scale(1.16 1)" stroke="#000" stroke-width="0.36" stroke-linejoin="round">0.1</text>
<text font-size="14.3" text-anchor="start" fill="#000" textLength="17.16" lengthAdjust="spacing" transform="translate(124.75 155.8) scale(1.16 1)" stroke="#000" stroke-width="0.36" stroke-linejoin="round">1.0</text>
<text font-size="14.3" text-anchor="start" fill="#000" textLength="25.09" lengthAdjust="spacing" transform="translate(161.15 155.8) scale(1.16 1)" stroke="#000" stroke-width="0.36" stroke-linejoin="round">10.0</text>
<text font-size="14.3" text-anchor="start" fill="#000" textLength="31.9" lengthAdjust="spacing" transform="translate(198.2 155.8) scale(1.16 1)" stroke="#000" stroke-width="0.36" stroke-linejoin="round">100.0</text>
<text font-size="14.3" text-anchor="start" fill="#000" textLength="39.74" lengthAdjust="spacing" transform="translate(234.65 155.8) scale(1.16 1)" stroke="#000" stroke-width="0.36" stroke-linejoin="round">1000.0</text>
<text font-size="14.3" text-anchor="start" fill="#000" transform="translate(81 18.1) scale(1.16 1)" stroke="#000" stroke-width="0.36" stroke-linejoin="round">4</text>
<text font-size="14.3" text-anchor="start" fill="#000" textLength="13.79" lengthAdjust="spacing" transform="translate(64.8 25) scale(1.16 1)" stroke="#000" stroke-width="0.36" stroke-linejoin="round">10</text>
<text font-size="14.3" text-anchor="start" fill="#000" transform="translate(81 31.19) scale(1.16 1)" stroke="#000" stroke-width="0.36" stroke-linejoin="round">3</text>
<text font-size="14.3" text-anchor="start" fill="#000" textLength="13.79" lengthAdjust="spacing" transform="translate(64.8 38.09) scale(1.16 1)" stroke="#000" stroke-width="0.36" stroke-linejoin="round">10</text>
<text font-size="14.3" text-anchor="start" fill="#000" transform="translate(81 48.27) scale(1.16 1)" stroke="#000" stroke-width="0.36" stroke-linejoin="round">2</text>
<text font-size="14.3" text-anchor="start" fill="#000" textLength="13.79" lengthAdjust="spacing" transform="translate(64.8 55.17) scale(1.16 1)" stroke="#000" stroke-width="0.36" stroke-linejoin="round">10</text>
<text font-size="14.3" text-anchor="start" fill="#000" transform="translate(81 65.36) scale(1.16 1)" stroke="#000" stroke-width="0.36" stroke-linejoin="round">1</text>
<text font-size="14.3" text-anchor="start" fill="#000" textLength="13.79" lengthAdjust="spacing" transform="translate(64.8 72.26) scale(1.16 1)" stroke="#000" stroke-width="0.36" stroke-linejoin="round">10</text>
<text font-size="14.3" text-anchor="start" fill="#000" transform="translate(81 82.44) scale(1.16 1)" stroke="#000" stroke-width="0.36" stroke-linejoin="round">0</text>
<text font-size="14.3" text-anchor="start" fill="#000" textLength="13.79" lengthAdjust="spacing" transform="translate(64.8 89.34) scale(1.16 1)" stroke="#000" stroke-width="0.36" stroke-linejoin="round">10</text>
<text font-size="14.3" text-anchor="start" fill="#000" transform="translate(81.6 99.53) scale(1.16 1)" stroke="#000" stroke-width="0.36" stroke-linejoin="round">1</text>
<path d="M71.1 95.13 h8.2" stroke="#000" stroke-width="1.3" fill="none"/>
<text font-size="14.3" text-anchor="start" fill="#000" textLength="13.79" lengthAdjust="spacing" transform="translate(52.7 106.43) scale(1.16 1)" stroke="#000" stroke-width="0.36" stroke-linejoin="round">10</text>
<text font-size="14.3" text-anchor="start" fill="#000" transform="translate(81.6 116.11) scale(1.16 1)" stroke="#000" stroke-width="0.36" stroke-linejoin="round">2</text>
<path d="M71.1 111.71 h8.2" stroke="#000" stroke-width="1.3" fill="none"/>
<text font-size="14.3" text-anchor="start" fill="#000" textLength="13.79" lengthAdjust="spacing" transform="translate(52.7 123.01) scale(1.16 1)" stroke="#000" stroke-width="0.36" stroke-linejoin="round">10</text>
<text font-size="14.3" text-anchor="start" fill="#000" transform="translate(81.6 127.4) scale(1.16 1)" stroke="#000" stroke-width="0.36" stroke-linejoin="round">3</text>
<path d="M71.1 123 h8.2" stroke="#000" stroke-width="1.3" fill="none"/>
<text font-size="14.3" text-anchor="start" fill="#000" textLength="13.79" lengthAdjust="spacing" transform="translate(52.7 134.3) scale(1.16 1)" stroke="#000" stroke-width="0.36" stroke-linejoin="round">10</text>
<text font-size="16.2" fill="#000" stroke="#000" stroke-width="0.36" stroke-linejoin="round" transform="translate(152.54 173.3) scale(1.16 1)">λ</text>
<text font-size="16.2" fill="#000" stroke="#000" stroke-width="0.36" stroke-linejoin="round" transform="translate(162.15 173.3) scale(1.16 1)">(</text>
<text font-style="italic" font-size="16.2" fill="#000" stroke="#000" stroke-width="0.36" stroke-linejoin="round" transform="translate(167.5 173.3) scale(1.16 1)">μ</text>
<text font-size="16.2" fill="#000" stroke="#000" stroke-width="0.36" stroke-linejoin="round" transform="translate(176.62 173.3) scale(1.16 1)">m</text>
<text font-size="16.2" fill="#000" stroke="#000" stroke-width="0.36" stroke-linejoin="round" transform="translate(192.14 173.3) scale(1.16 1)">)</text>
<text font-style="italic" font-size="16.2" fill="#000" stroke="#000" stroke-width="0.36" stroke-linejoin="round" transform="translate(40 97.58) rotate(-90) scale(1.16 1)">ν</text>
<text font-size="16.2" fill="#000" stroke="#000" stroke-width="0.36" stroke-linejoin="round" transform="translate(40 83.42) rotate(-90) scale(1.16 1)">S</text>
<text font-size="16.2" fill="#000" stroke="#000" stroke-width="0.36" stroke-linejoin="round" transform="translate(40 73.75) rotate(-90) scale(1.16 1)">(</text>
<text font-style="italic" font-size="16.2" fill="#000" stroke="#000" stroke-width="0.36" stroke-linejoin="round" transform="translate(40 67.28) rotate(-90) scale(1.16 1)">ν</text>
<text font-size="16.2" fill="#000" stroke="#000" stroke-width="0.36" stroke-linejoin="round" transform="translate(40 59.06) rotate(-90) scale(1.16 1)">)</text>
<text font-size="14.3" text-anchor="start" fill="#000" textLength="17.41" lengthAdjust="spacing" transform="translate(419.3 155.8) scale(1.16 1)" stroke="#000" stroke-width="0.36" stroke-linejoin="round">0.1</text>
<text font-size="14.3" text-anchor="start" fill="#000" textLength="17.16" lengthAdjust="spacing" transform="translate(460.38 155.8) scale(1.16 1)" stroke="#000" stroke-width="0.36" stroke-linejoin="round">1.0</text>
<text font-size="14.3" text-anchor="start" fill="#000" textLength="25.09" lengthAdjust="spacing" transform="translate(496.7 155.8) scale(1.16 1)" stroke="#000" stroke-width="0.36" stroke-linejoin="round">10.0</text>
<text font-size="14.3" text-anchor="start" fill="#000" textLength="31.9" lengthAdjust="spacing" transform="translate(533.68 155.8) scale(1.16 1)" stroke="#000" stroke-width="0.36" stroke-linejoin="round">100.0</text>
<text font-size="14.3" text-anchor="start" fill="#000" textLength="39.74" lengthAdjust="spacing" transform="translate(570.05 155.8) scale(1.16 1)" stroke="#000" stroke-width="0.36" stroke-linejoin="round">1000.0</text>
<text font-size="14.3" text-anchor="start" fill="#000" transform="translate(416.7 18.1) scale(1.16 1)" stroke="#000" stroke-width="0.36" stroke-linejoin="round">4</text>
<text font-size="14.3" text-anchor="start" fill="#000" textLength="13.79" lengthAdjust="spacing" transform="translate(400.5 25) scale(1.16 1)" stroke="#000" stroke-width="0.36" stroke-linejoin="round">10</text>
<text font-size="14.3" text-anchor="start" fill="#000" transform="translate(416.7 31.19) scale(1.16 1)" stroke="#000" stroke-width="0.36" stroke-linejoin="round">3</text>
<text font-size="14.3" text-anchor="start" fill="#000" textLength="13.79" lengthAdjust="spacing" transform="translate(400.5 38.09) scale(1.16 1)" stroke="#000" stroke-width="0.36" stroke-linejoin="round">10</text>
<text font-size="14.3" text-anchor="start" fill="#000" transform="translate(416.7 48.27) scale(1.16 1)" stroke="#000" stroke-width="0.36" stroke-linejoin="round">2</text>
<text font-size="14.3" text-anchor="start" fill="#000" textLength="13.79" lengthAdjust="spacing" transform="translate(400.5 55.17) scale(1.16 1)" stroke="#000" stroke-width="0.36" stroke-linejoin="round">10</text>
<text font-size="14.3" text-anchor="start" fill="#000" transform="translate(416.7 65.36) scale(1.16 1)" stroke="#000" stroke-width="0.36" stroke-linejoin="round">1</text>
<text font-size="14.3" text-anchor="start" fill="#000" textLength="13.79" lengthAdjust="spacing" transform="translate(400.5 72.26) scale(1.16 1)" stroke="#000" stroke-width="0.36" stroke-linejoin="round">10</text>
<text font-size="14.3" text-anchor="start" fill="#000" transform="translate(416.7 82.44) scale(1.16 1)" stroke="#000" stroke-width="0.36" stroke-linejoin="round">0</text>
<text font-size="14.3" text-anchor="start" fill="#000" textLength="13.79" lengthAdjust="spacing" transform="translate(400.5 89.34) scale(1.16 1)" stroke="#000" stroke-width="0.36" stroke-linejoin="round">10</text>
<text font-size="14.3" text-anchor="start" fill="#000" transform="translate(417.3 99.53) scale(1.16 1)" stroke="#000" stroke-width="0.36" stroke-linejoin="round">1</text>
<path d="M406.8 95.13 h8.2" stroke="#000" stroke-width="1.3" fill="none"/>
<text font-size="14.3" text-anchor="start" fill="#000" textLength="13.79" lengthAdjust="spacing" transform="translate(388.4 106.43) scale(1.16 1)" stroke="#000" stroke-width="0.36" stroke-linejoin="round">10</text>
<text font-size="14.3" text-anchor="start" fill="#000" transform="translate(417.3 116.11) scale(1.16 1)" stroke="#000" stroke-width="0.36" stroke-linejoin="round">2</text>
<path d="M406.8 111.71 h8.2" stroke="#000" stroke-width="1.3" fill="none"/>
<text font-size="14.3" text-anchor="start" fill="#000" textLength="13.79" lengthAdjust="spacing" transform="translate(388.4 123.01) scale(1.16 1)" stroke="#000" stroke-width="0.36" stroke-linejoin="round">10</text>
<text font-size="14.3" text-anchor="start" fill="#000" transform="translate(417.3 127.4) scale(1.16 1)" stroke="#000" stroke-width="0.36" stroke-linejoin="round">3</text>
<path d="M406.8 123 h8.2" stroke="#000" stroke-width="1.3" fill="none"/>
<text font-size="14.3" text-anchor="start" fill="#000" textLength="13.79" lengthAdjust="spacing" transform="translate(388.4 134.3) scale(1.16 1)" stroke="#000" stroke-width="0.36" stroke-linejoin="round">10</text>
<text font-size="16.2" fill="#000" stroke="#000" stroke-width="0.36" stroke-linejoin="round" transform="translate(488.09 173.3) scale(1.16 1)">λ</text>
<text font-size="16.2" fill="#000" stroke="#000" stroke-width="0.36" stroke-linejoin="round" transform="translate(497.7 173.3) scale(1.16 1)">(</text>
<text font-style="italic" font-size="16.2" fill="#000" stroke="#000" stroke-width="0.36" stroke-linejoin="round" transform="translate(503.05 173.3) scale(1.16 1)">μ</text>
<text font-size="16.2" fill="#000" stroke="#000" stroke-width="0.36" stroke-linejoin="round" transform="translate(512.17 173.3) scale(1.16 1)">m</text>
<text font-size="16.2" fill="#000" stroke="#000" stroke-width="0.36" stroke-linejoin="round" transform="translate(527.69 173.3) scale(1.16 1)">)</text>
<text font-style="italic" font-size="16.2" fill="#000" stroke="#000" stroke-width="0.36" stroke-linejoin="round" transform="translate(375.7 97.58) rotate(-90) scale(1.16 1)">ν</text>
<text font-size="16.2" fill="#000" stroke="#000" stroke-width="0.36" stroke-linejoin="round" transform="translate(375.7 83.42) rotate(-90) scale(1.16 1)">S</text>
<text font-size="16.2" fill="#000" stroke="#000" stroke-width="0.36" stroke-linejoin="round" transform="translate(375.7 73.75) rotate(-90) scale(1.16 1)">(</text>
<text font-style="italic" font-size="16.2" fill="#000" stroke="#000" stroke-width="0.36" stroke-linejoin="round" transform="translate(375.7 67.28) rotate(-90) scale(1.16 1)">ν</text>
<text font-size="16.2" fill="#000" stroke="#000" stroke-width="0.36" stroke-linejoin="round" transform="translate(375.7 59.06) rotate(-90) scale(1.16 1)">)</text>
<text font-size="14.3" text-anchor="start" fill="#000" textLength="17.41" lengthAdjust="spacing" transform="translate(83.9 395.7) scale(1.16 1)" stroke="#000" stroke-width="0.36" stroke-linejoin="round">0.1</text>
<text font-size="14.3" text-anchor="start" fill="#000" textLength="17.16" lengthAdjust="spacing" transform="translate(125 395.7) scale(1.16 1)" stroke="#000" stroke-width="0.36" stroke-linejoin="round">1.0</text>
<text font-size="14.3" text-anchor="start" fill="#000" textLength="25.09" lengthAdjust="spacing" transform="translate(161.35 395.7) scale(1.16 1)" stroke="#000" stroke-width="0.36" stroke-linejoin="round">10.0</text>
<text font-size="14.3" text-anchor="start" fill="#000" textLength="31.9" lengthAdjust="spacing" transform="translate(198.35 395.7) scale(1.16 1)" stroke="#000" stroke-width="0.36" stroke-linejoin="round">100.0</text>
<text font-size="14.3" text-anchor="start" fill="#000" textLength="39.74" lengthAdjust="spacing" transform="translate(234.75 395.7) scale(1.16 1)" stroke="#000" stroke-width="0.36" stroke-linejoin="round">1000.0</text>
<text font-size="14.3" text-anchor="start" fill="#000" textLength="55.69" lengthAdjust="spacing" transform="translate(25.2 264.1) scale(1.16 1)" stroke="#000" stroke-width="0.36" stroke-linejoin="round">10000.00</text>
<text font-size="14.3" text-anchor="start" fill="#000" textLength="48.1" lengthAdjust="spacing" transform="translate(34 279.35) scale(1.16 1)" stroke="#000" stroke-width="0.36" stroke-linejoin="round">1000.00</text>
<text font-size="14.3" text-anchor="start" fill="#000" textLength="40.52" lengthAdjust="spacing" transform="translate(42.8 299.7) scale(1.16 1)" stroke="#000" stroke-width="0.36" stroke-linejoin="round">100.00</text>
<text font-size="14.3" text-anchor="start" fill="#000" textLength="33.45" lengthAdjust="spacing" transform="translate(51 320.05) scale(1.16 1)" stroke="#000" stroke-width="0.36" stroke-linejoin="round">10.00</text>
<text font-size="14.3" text-anchor="start" fill="#000" textLength="26.03" lengthAdjust="spacing" transform="translate(59.6 340.6) scale(1.16 1)" stroke="#000" stroke-width="0.36" stroke-linejoin="round">1.00</text>
<text font-size="14.3" text-anchor="start" fill="#000" textLength="26.03" lengthAdjust="spacing" transform="translate(59.6 360.95) scale(1.16 1)" stroke="#000" stroke-width="0.36" stroke-linejoin="round">0.10</text>
<text font-size="14.3" text-anchor="start" fill="#000" textLength="26.03" lengthAdjust="spacing" transform="translate(59.6 374.9) scale(1.16 1)" stroke="#000" stroke-width="0.36" stroke-linejoin="round">0.01</text>
<text font-size="16.2" fill="#000" stroke="#000" stroke-width="0.36" stroke-linejoin="round" transform="translate(152.74 413.2) scale(1.16 1)">λ</text>
<text font-size="16.2" fill="#000" stroke="#000" stroke-width="0.36" stroke-linejoin="round" transform="translate(162.35 413.2) scale(1.16 1)">(</text>
<text font-style="italic" font-size="16.2" fill="#000" stroke="#000" stroke-width="0.36" stroke-linejoin="round" transform="translate(167.7 413.2) scale(1.16 1)">μ</text>
<text font-size="16.2" fill="#000" stroke="#000" stroke-width="0.36" stroke-linejoin="round" transform="translate(176.82 413.2) scale(1.16 1)">m</text>
<text font-size="16.2" fill="#000" stroke="#000" stroke-width="0.36" stroke-linejoin="round" transform="translate(192.34 413.2) scale(1.16 1)">)</text>
<text font-style="italic" font-size="16.2" fill="#000" stroke="#000" stroke-width="0.36" stroke-linejoin="round" transform="translate(12.1 338.13) rotate(-90) scale(1.16 1)">ν</text>
<text font-size="16.2" fill="#000" stroke="#000" stroke-width="0.36" stroke-linejoin="round" transform="translate(12.1 323.97) rotate(-90) scale(1.16 1)">S</text>
<text font-size="16.2" fill="#000" stroke="#000" stroke-width="0.36" stroke-linejoin="round" transform="translate(12.1 314.3) rotate(-90) scale(1.16 1)">(</text>
<text font-style="italic" font-size="16.2" fill="#000" stroke="#000" stroke-width="0.36" stroke-linejoin="round" transform="translate(12.1 307.83) rotate(-90) scale(1.16 1)">ν</text>
<text font-size="16.2" fill="#000" stroke="#000" stroke-width="0.36" stroke-linejoin="round" transform="translate(12.1 299.61) rotate(-90) scale(1.16 1)">)</text>
<text font-size="14.3" text-anchor="start" fill="#000" textLength="17.41" lengthAdjust="spacing" transform="translate(419.5 395.7) scale(1.16 1)" stroke="#000" stroke-width="0.36" stroke-linejoin="round">0.1</text>
<text font-size="14.3" text-anchor="start" fill="#000" textLength="17.16" lengthAdjust="spacing" transform="translate(460.55 395.7) scale(1.16 1)" stroke="#000" stroke-width="0.36" stroke-linejoin="round">1.0</text>
<text font-size="14.3" text-anchor="start" fill="#000" textLength="25.09" lengthAdjust="spacing" transform="translate(496.85 395.7) scale(1.16 1)" stroke="#000" stroke-width="0.36" stroke-linejoin="round">10.0</text>
<text font-size="14.3" text-anchor="start" fill="#000" textLength="31.9" lengthAdjust="spacing" transform="translate(533.8 395.7) scale(1.16 1)" stroke="#000" stroke-width="0.36" stroke-linejoin="round">100.0</text>
<text font-size="14.3" text-anchor="start" fill="#000" textLength="39.74" lengthAdjust="spacing" transform="translate(570.15 395.7) scale(1.16 1)" stroke="#000" stroke-width="0.36" stroke-linejoin="round">1000.0</text>
<text font-size="14.3" text-anchor="start" fill="#000" textLength="55.69" lengthAdjust="spacing" transform="translate(360.8 264.1) scale(1.16 1)" stroke="#000" stroke-width="0.36" stroke-linejoin="round">10000.00</text>
<text font-size="14.3" text-anchor="start" fill="#000" textLength="48.1" lengthAdjust="spacing" transform="translate(369.6 279.35) scale(1.16 1)" stroke="#000" stroke-width="0.36" stroke-linejoin="round">1000.00</text>
<text font-size="14.3" text-anchor="start" fill="#000" textLength="40.52" lengthAdjust="spacing" transform="translate(378.4 299.7) scale(1.16 1)" stroke="#000" stroke-width="0.36" stroke-linejoin="round">100.00</text>
<text font-size="14.3" text-anchor="start" fill="#000" textLength="33.45" lengthAdjust="spacing" transform="translate(386.6 320.05) scale(1.16 1)" stroke="#000" stroke-width="0.36" stroke-linejoin="round">10.00</text>
<text font-size="14.3" text-anchor="start" fill="#000" textLength="26.03" lengthAdjust="spacing" transform="translate(395.2 340.6) scale(1.16 1)" stroke="#000" stroke-width="0.36" stroke-linejoin="round">1.00</text>
<text font-size="14.3" text-anchor="start" fill="#000" textLength="26.03" lengthAdjust="spacing" transform="translate(395.2 360.95) scale(1.16 1)" stroke="#000" stroke-width="0.36" stroke-linejoin="round">0.10</text>
<text font-size="14.3" text-anchor="start" fill="#000" textLength="26.03" lengthAdjust="spacing" transform="translate(395.2 374.9) scale(1.16 1)" stroke="#000" stroke-width="0.36" stroke-linejoin="round">0.01</text>
<text font-size="16.2" fill="#000" stroke="#000" stroke-width="0.36" stroke-linejoin="round" transform="translate(488.24 413.2) scale(1.16 1)">λ</text>
<text font-size="16.2" fill="#000" stroke="#000" stroke-width="0.36" stroke-linejoin="round" transform="translate(497.85 413.2) scale(1.16 1)">(</text>
<text font-style="italic" font-size="16.2" fill="#000" stroke="#000" stroke-width="0.36" stroke-linejoin="round" transform="translate(503.2 413.2) scale(1.16 1)">μ</text>
<text font-size="16.2" fill="#000" stroke="#000" stroke-width="0.36" stroke-linejoin="round" transform="translate(512.32 413.2) scale(1.16 1)">m</text>
<text font-size="16.2" fill="#000" stroke="#000" stroke-width="0.36" stroke-linejoin="round" transform="translate(527.84 413.2) scale(1.16 1)">)</text>
<text font-style="italic" font-size="16.2" fill="#000" stroke="#000" stroke-width="0.36" stroke-linejoin="round" transform="translate(347.7 338.13) rotate(-90) scale(1.16 1)">ν</text>
<text font-size="16.2" fill="#000" stroke="#000" stroke-width="0.36" stroke-linejoin="round" transform="translate(347.7 323.97) rotate(-90) scale(1.16 1)">S</text>
<text font-size="16.2" fill="#000" stroke="#000" stroke-width="0.36" stroke-linejoin="round" transform="translate(347.7 314.3) rotate(-90) scale(1.16 1)">(</text>
<text font-style="italic" font-size="16.2" fill="#000" stroke="#000" stroke-width="0.36" stroke-linejoin="round" transform="translate(347.7 307.83) rotate(-90) scale(1.16 1)">ν</text>
<text font-size="16.2" fill="#000" stroke="#000" stroke-width="0.36" stroke-linejoin="round" transform="translate(347.7 299.61) rotate(-90) scale(1.16 1)">)</text>
<text font-size="14.6" text-anchor="start" fill="#ff00ff" textLength="58.28" lengthAdjust="spacing" transform="translate(176.8 10.4) scale(1.16 1)" stroke="#ff00ff" stroke-width="0.3" stroke-linejoin="round">t=10 Myr</text>
<text font-size="14.6" text-anchor="start" fill="#ff00ff" textLength="67.33" lengthAdjust="spacing" transform="translate(511.6 10.4) scale(1.16 1)" stroke="#ff00ff" stroke-width="0.3" stroke-linejoin="round">t=100 Myr</text>
<text font-size="14.6" text-anchor="start" fill="#ff00ff" textLength="50.69" lengthAdjust="spacing" transform="translate(176.5 249) scale(1.16 1)" stroke="#ff00ff" stroke-width="0.3" stroke-linejoin="round">t=3 Gyr</text>
<text font-size="14.6" text-anchor="start" fill="#ff00ff" textLength="58.71" lengthAdjust="spacing" transform="translate(511.6 249) scale(1.16 1)" stroke="#ff00ff" stroke-width="0.3" stroke-linejoin="round">t=12 Gyr</text>
</svg>
</body></html>
